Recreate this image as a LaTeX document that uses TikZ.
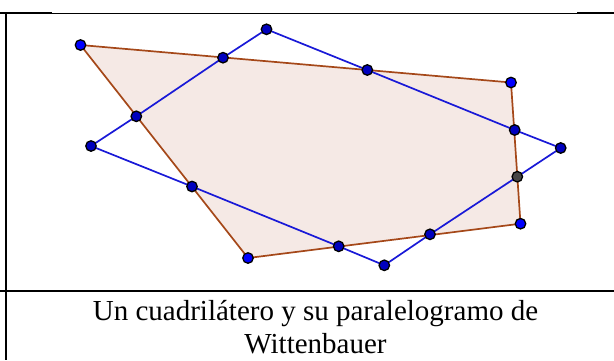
\documentclass[tikz,border=0pt]{standalone}
\usepackage{fontspec}
\setmainfont{Liberation Serif}
\definecolor{quadfill}{RGB}{245,233,229}
\definecolor{quadline}{RGB}{165,72,25}
\definecolor{parline}{RGB}{25,25,215}
\definecolor{ptblue}{RGB}{0,0,255}
\definecolor{ptdark}{RGB}{0,0,190}
\definecolor{ptgray}{RGB}{70,70,70}
\tikzset{
  pt/.style={circle,draw=black,line width=1.3pt,fill=ptdark,inner sep=0pt,minimum size=10.5pt},
  ptfree/.style={pt,fill=ptblue},
  ptg/.style={pt,fill=ptgray},
  quad/.style={draw=quadline,line width=1.7pt,fill=quadfill},
  para/.style={draw=parline,line width=1.7pt},
  rule/.style={line width=2pt,black},
  thinrule/.style={line width=1pt,black},
  caption/.style={font=\fontsize{29}{33}\selectfont,anchor=base,inner sep=0pt}
}
\begin{document}
\begin{tikzpicture}[x=1pt,y=-1pt]
\useasboundingbox (0,0) rectangle (614,360);
% table rules
\coordinate (tl) at (0,13);
\coordinate (ta) at (52,13);
\coordinate (tb) at (577,13);
\coordinate (tr) at (614,13);
\coordinate (vt) at (6,12);
\coordinate (vb) at (6,360);
\coordinate (ml) at (0,290.5);
\coordinate (mr) at (614,290.5);
\draw[rule] (tl) -- (ta);
\draw[thinrule] (ta) -- (tb);
\draw[rule] (tb) -- (tr);
\draw[rule] (vt) -- (vb);
\draw[rule] (ml) -- (mr);
% quadrilateral vertices
\coordinate (A) at (80.5,45);
\coordinate (B) at (511,82.5);
\coordinate (C) at (520.5,223.7);
\coordinate (D) at (248,258);
% parallelogram points
\coordinate (P1) at (266.5,29.3);
\coordinate (P2) at (223,57.7);
\coordinate (P3) at (136.3,116.3);
\coordinate (P4) at (91,146);
\coordinate (P5) at (192,186.5);
\coordinate (P6) at (338.7,246.3);
\coordinate (P7) at (384.3,265.3);
\coordinate (P8) at (430,234.3);
\coordinate (P9) at (517.3,176.7);
\coordinate (P10) at (560.7,148);
\coordinate (P11) at (514.7,130);
\coordinate (P12) at (367.3,70);
\draw[quad] (A) -- (B) -- (C) -- (D) -- cycle;
\draw[para] (P1) -- (P2) -- (P3) -- (P4) -- (P5) -- (P6) -- (P7) -- (P8) -- (P9) -- (P10) -- (P11) -- (P12) -- cycle;
\foreach \p in {P1,P2,P3,P4,P5,P6,P7,P8,P10,P11,P12}
  \node[pt] (n\p) at (\p) {};
\foreach \p in {A,B,C,D}
  \node[ptfree] (n\p) at (\p) {};
\node[ptg] (nP9) at (P9) {};
\node[caption] (cap1) at (315.5,320) {Un cuadrilátero y su paralelogramo de};
\node[caption] (cap2) at (315.5,353) {Wittenbauer};
\end{tikzpicture}
\end{document}
